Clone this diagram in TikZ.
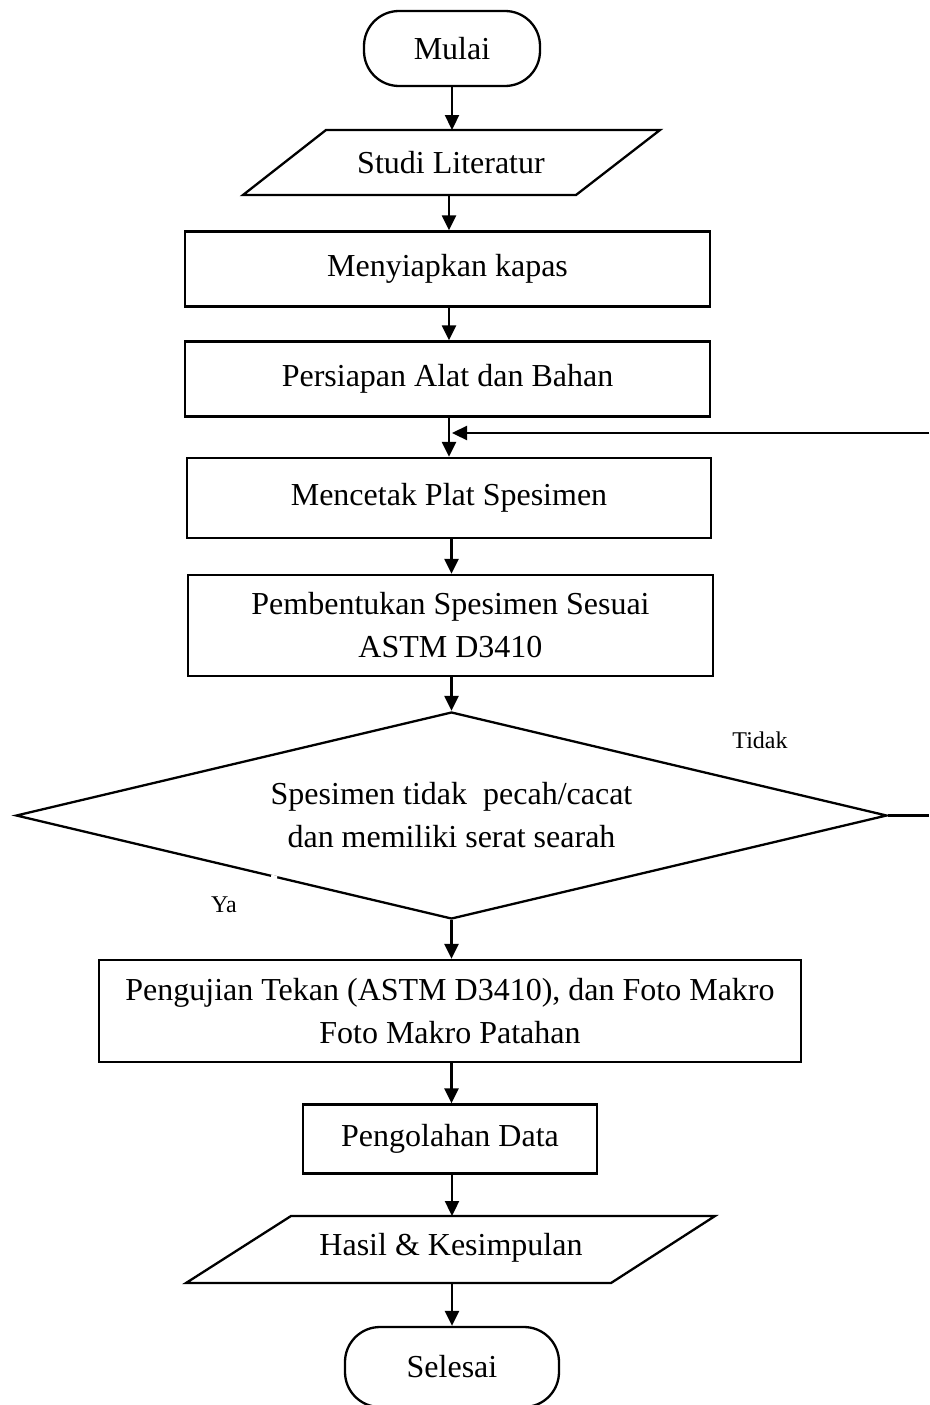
\documentclass[tikz,border=0pt]{standalone}
\usepackage{fontspec}
\setmainfont{Liberation Serif}
\usetikzlibrary{arrows.meta,shapes.geometric}
\begin{document}
\begin{tikzpicture}[x=1pt,y=-1pt,
  line width=2.3pt,
  box/.style={draw, rectangle, inner sep=0pt, align=center, font=\fontsize{32}{43}\selectfont},
  term/.style={box, rounded corners=35pt},
  txt/.style={inner sep=0pt, align=center, font=\fontsize{32}{43}\selectfont},
  lbl/.style={inner sep=0pt, font=\fontsize{24}{28}\selectfont},
  arr/.style={-{Triangle[length=15pt,width=14pt]}},
  shapeline/.style={draw, line join=miter}
  ]
\useasboundingbox (0,0) rectangle (929,1405);

% terminals and boxes
\node[term, minimum width=176pt, minimum height=75pt] (mulai) at (452,48.5) {Mulai};

\coordinate (studiT) at (452,130);
\coordinate (studiB) at (449,195);
\draw[shapeline] (326,130) -- (660,130) -- (576,195) -- (243,195) -- cycle;
\node[txt] (studi) at (451,162.5) {Studi Literatur};

\node[box, minimum width=525pt, minimum height=75pt] (siap) at (447.5,269) {Menyiapkan kapas};
\node[box, minimum width=525pt, minimum height=75pt] (alat) at (447.5,379) {Persiapan Alat dan Bahan};
\node[box, minimum width=524pt, minimum height=80pt] (cetak) at (449,498) {Mencetak Plat Spesimen};
\node[box, minimum width=525pt, minimum height=101pt] (bentuk) at (450.5,625.5) {Pembentukan Spesimen Sesuai\\ASTM D3410};

\node[draw, diamond, aspect=4.2, inner sep=0pt, minimum width=871pt, minimum height=207pt,
      align=center, font=\fontsize{32}{43}\selectfont] (cek) at (451.5,815.5)
      {Spesimen tidak~ pecah/cacat\\dan memiliki serat searah};
% small break in the lower left edge
\draw[white, line width=4pt] (271,876.5) -- (277,877.9);

\node[box, minimum width=702pt, minimum height=102pt] (uji) at (450,1011) {Pengujian Tekan (ASTM D3410), dan Foto Makro\\Foto Makro Patahan};
\node[box, minimum width=294pt, minimum height=69pt] (olah) at (450,1139) {Pengolahan Data};

\coordinate (hasilT) at (452,1216);
\coordinate (hasilB) at (452,1283);
\draw[shapeline] (291,1216) -- (715,1216) -- (611,1283) -- (186,1283) -- cycle;
\node[txt] (hasil) at (451,1248) {Hasil \& Kesimpulan};

\node[term, minimum width=214pt, minimum height=80pt] (selesai) at (452,1367) {Selesai};

% labels
\node[lbl] (tidak) at (760,740) {Tidak};
\node[lbl] (ya) at (224,905) {Ya};

% connectors
\draw[arr] (mulai.south) -- (studiT);
\draw[arr] (studiB) -- (studiB |- siap.north);
\draw[arr] (siap.south -| studiB) -- (studiB |- alat.north);
\draw[arr] (alat.south -| studiB) -- (studiB |- cetak.north);
\draw[arr] (cetak.south -| cek.north) -- (bentuk.north -| cek.north);
\draw[arr] (bentuk.south -| cek.north) -- (cek.north);
\draw[arr] (cek.south) -- (cek.south |- uji.north);
\draw[arr] (uji.south -| cek.south) -- (cek.south |- olah.north);
\draw[arr] (olah.south -| hasilT) -- (hasilT);
\draw[arr] (hasilB) -- (hasilB |- selesai.north);

% loop back (continues beyond the right edge)
\coordinate (loopA) at (929,815.5);
\coordinate (loopB) at (929,433);
\coordinate (join) at (452,433);
\draw (cek.east) -- (loopA);
\draw[arr] (loopB) -- (join);
\end{tikzpicture}
\end{document}
